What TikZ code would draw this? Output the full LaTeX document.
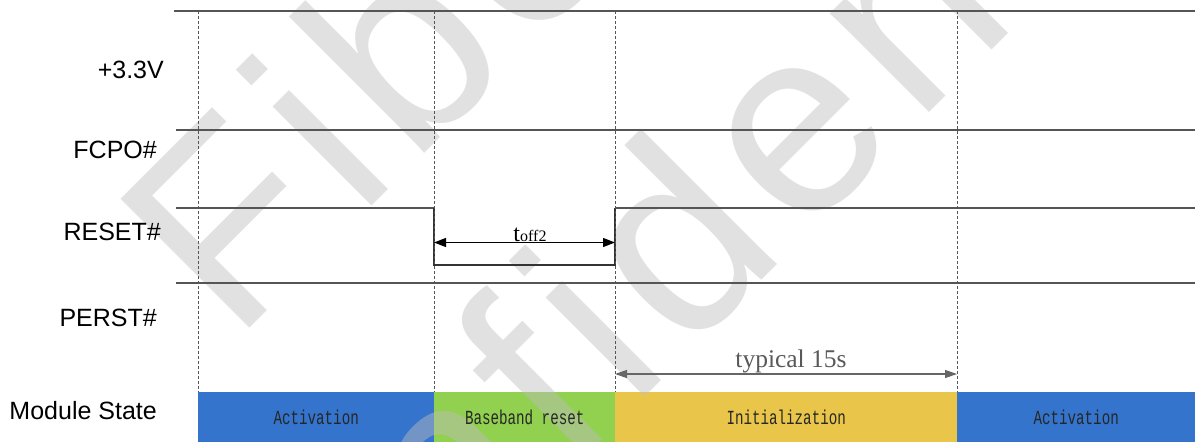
\documentclass[tikz,border=0pt]{standalone}
\usepackage{fontspec}
\setmainfont{Liberation Sans}
\newfontfamily\serifface{Liberation Serif}
\newfontfamily\monoface[FakeStretch=0.71]{Liberation Mono}
\newfontfamily\wmface[LetterSpace=6]{Liberation Sans}
\usetikzlibrary{arrows.meta}
\definecolor{actblue}{HTML}{3474CC}
\definecolor{bbgreen}{HTML}{92D050}
\definecolor{inityel}{HTML}{E9C64A}
\definecolor{sigline}{HTML}{555555}
\definecolor{dashcol}{HTML}{555555}
\definecolor{wmgray}{HTML}{BEBEBE}
\definecolor{dimgrey}{HTML}{666666}
\definecolor{typtext}{HTML}{595959}
\tikzset{
  bar/.style={draw=none, inner sep=0pt, anchor=north west, minimum height=50pt},
  bartext/.style={inner sep=0pt, text=black!85, font=\monoface\fontsize{20}{20}\selectfont},
  siglabel/.style={anchor=east, inner sep=0pt, font=\fontsize{25}{25}\selectfont},
  sig/.style={draw=sigline, line width=1.2pt},
  pulse/.style={draw=black!80, line width=1.2pt},
  guide/.style={draw=dashcol, line width=0.7pt, dash pattern=on 3pt off 2pt},
  tarrow/.style={draw=black, line width=1.2pt, {Triangle[length=12pt,width=9pt]}-{Triangle[length=12pt,width=9pt]}},
  garrow/.style={draw=dimgrey, line width=1.2pt, {Triangle[length=12pt,width=8pt]}-{Triangle[length=12pt,width=8pt]}},
  watermark/.style={anchor=base west, inner sep=0pt, rotate=45, text=wmgray, text opacity=0.45,
    font=\wmface\fontsize{265}{265}\selectfont}
}
\begin{document}
\begin{tikzpicture}[x=1pt,y=-1pt]
\useasboundingbox (0,0) rectangle (1195,442);
\fill[white] (0,0) rectangle (1195,442);

% module state bars (fills)
\node[bar, fill=actblue, minimum width=236pt] (act1) at (198,392) {};
\node[bar, fill=bbgreen, minimum width=181pt] (bbr) at (434,392) {};
\node[bar, fill=inityel, minimum width=342pt] (init) at (615,392) {};
\node[bar, fill=actblue, minimum width=238pt] (act2) at (957,392) {};

% watermark
\node[watermark] (wm1) at (234,344) {Fibocom};
\node[watermark] (wm2) at (192,850) {Confidential};

% bar texts
\node[bartext] (tact1) at (act1.center) {Activation};
\node[bartext] (tbbr) at (bbr.center) {Baseband reset};
\node[bartext] (tinit) at (init.center) {Initialization};
\node[bartext] (tact2) at (act2.center) {Activation};

% signal labels
\node[siglabel] (l33) at (164,70) {+3.3V};
\node[siglabel] (lfc) at (157,149.5) {FCPO\#};
\node[siglabel] (lrs) at (161,232) {RESET\#};
\node[siglabel] (lpe) at (157,317.5) {PERST\#};
\node[siglabel] (lms) at (157,410.5) {Module State};

% signals
\draw[sig] (174,11) -- (1195,11);
\draw[sig] (176,130) -- (1195,130);
\draw[sig] (176,208) -- (434,208);
\draw[pulse] (434,208) -- (434,265) -- (615,265) -- (615,208);
\draw[sig] (615,208) -- (1195,208);
\draw[sig] (176,283) -- (1195,283);

% dashed guides
\coordinate (g1t) at (198,11);  \coordinate (g1b) at (198,392);
\coordinate (g2t) at (434,11);  \coordinate (g2b) at (434,392);
\coordinate (g3t) at (615,11);  \coordinate (g3b) at (615,392);
\coordinate (g4t) at (957,11);  \coordinate (g4b) at (957,392);
\draw[guide] (g1t) -- (g1b);
\draw[guide] (g2t) -- (g2b);
\draw[guide] (g3t) -- (g3b);
\draw[guide] (g4t) -- (g4b);

% toff2
\coordinate (ta) at (434,242.5);
\coordinate (tb) at (615,242.5);
\draw[tarrow] (ta) -- (tb);
\node[anchor=base, inner sep=0pt] (toff) at (530,241)
  {\serifface\fontsize{24}{24}\selectfont t\fontsize{16}{16}\selectfont off2};

% typical 15s
\coordinate (ya) at (615,374);
\coordinate (yb) at (957,374);
\draw[garrow] (ya) -- (yb);
\node[anchor=base, inner sep=0pt, text=typtext] (typ) at (791,367.5)
  {\serifface\fontsize{25.5}{25.5}\selectfont typical 15s};
\end{tikzpicture}
\end{document}
